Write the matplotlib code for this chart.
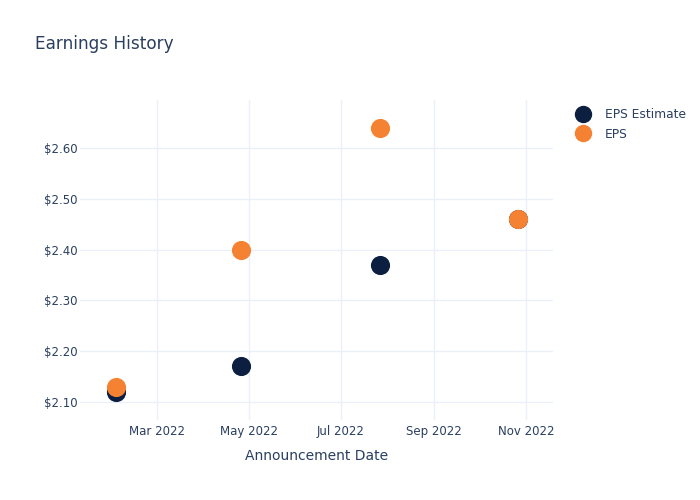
import matplotlib.pyplot as plt
import matplotlib.dates as mdates
import numpy as np
from matplotlib.ticker import FuncFormatter
from matplotlib.lines import Line2D

dates = np.array(["2022-02-02", "2022-04-26", "2022-07-27", "2022-10-27"], dtype="datetime64[D]")
eps_estimate = [2.12, 2.17, 2.37, 2.46]
eps_actual = [2.13, 2.40, 2.64, 2.46]

text_color = "#2a3f5f"
navy = "#0c1f40"
orange = "#f58233"
grid_color = "#ebf0f8"

fig = plt.figure(figsize=(7, 5), dpi=100)
ax = fig.add_axes([80 / 700, 80 / 500, 473 / 700, 320 / 500])

ax.scatter(dates, eps_estimate, s=190, color=navy, zorder=3, linewidths=0)
ax.scatter(dates, eps_actual, s=190, color=orange, zorder=4, linewidths=0)

ax.set_xlim(np.datetime64("2022-01-09"), np.datetime64("2022-11-19"))
ax.set_ylim(2.064, 2.695)

ax.xaxis.set_major_locator(mdates.MonthLocator(bymonth=[3, 5, 7, 9, 11]))
ax.xaxis.set_major_formatter(mdates.DateFormatter("%b %Y"))
ax.set_yticks([2.1, 2.2, 2.3, 2.4, 2.5, 2.6])
ax.yaxis.set_major_formatter(FuncFormatter(lambda v, p: f"${v:.2f}"))

ax.grid(True, color=grid_color, linewidth=1)
ax.set_axisbelow(True)
for s in ax.spines.values():
    s.set_visible(False)
ax.tick_params(length=0, labelsize=8.5, colors=text_color)
ax.tick_params(axis="y", pad=2)
ax.tick_params(axis="x", pad=3.5)

ax.set_xlabel("Announcement Date", fontsize=10, color=text_color, labelpad=8)

fig.text(35 / 700, 1 - 44 / 500, "Earnings History", fontsize=12.2, color=text_color, va="center")

handles = [
    Line2D([], [], marker="o", linestyle="", markersize=11.5, color=navy, label="EPS Estimate"),
    Line2D([], [], marker="o", linestyle="", markersize=11.5, color=orange, label="EPS"),
]
leg = fig.legend(handles=handles, loc="upper left", bbox_to_anchor=(574 / 700, 1 - 108 / 500),
                 frameon=False, fontsize=8.8, handletextpad=1.0, labelspacing=0.55,
                 borderaxespad=0, borderpad=0, handlelength=1.5)
for t in leg.get_texts():
    t.set_color(text_color)

fig.savefig("out.png", dpi=100)
